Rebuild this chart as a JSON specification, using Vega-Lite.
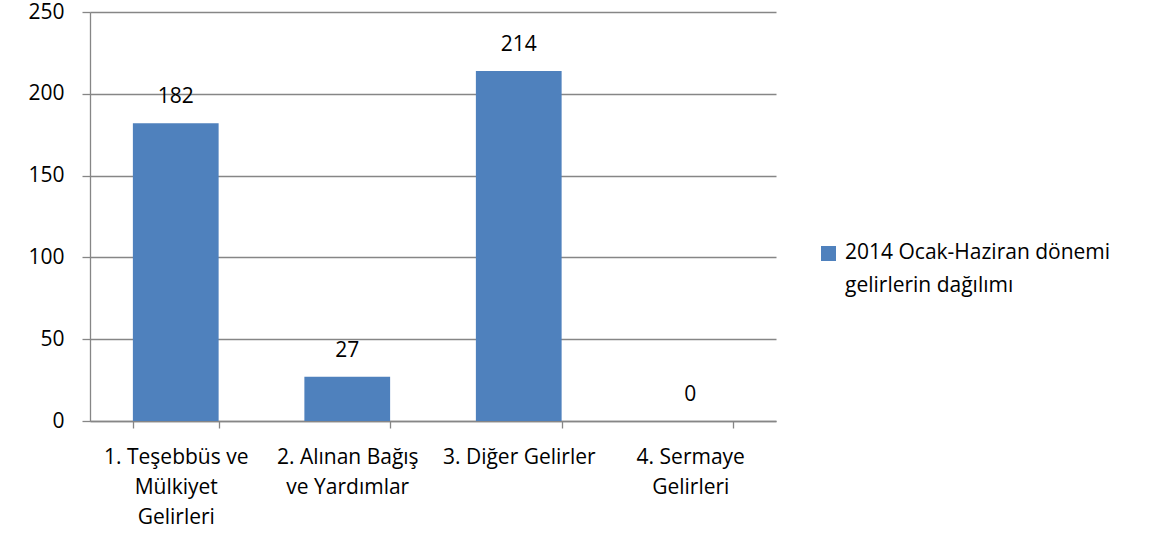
{
  "$schema": "https://vega.github.io/schema/vega-lite/v6.json",
  "autosize": "none",
  "width": 686,
  "height": 409,
  "padding": {"left": 90, "top": 12, "right": 379, "bottom": 132},
  "background": "white",
  "config": {
    "font": "Open Sans",
    "view": {"stroke": null}
  },
  "data": {
    "values": [
      {"kategori": "1. Teşebbüs ve\nMülkiyet\nGelirleri", "deger": 182, "seri": "2014 Ocak-Haziran dönemi\ngelirlerin dağılımı"},
      {"kategori": "2. Alınan Bağış\nve Yardımlar", "deger": 27, "seri": "2014 Ocak-Haziran dönemi\ngelirlerin dağılımı"},
      {"kategori": "3. Diğer Gelirler", "deger": 214, "seri": "2014 Ocak-Haziran dönemi\ngelirlerin dağılımı"},
      {"kategori": "4. Sermaye\nGelirleri", "deger": 0, "seri": "2014 Ocak-Haziran dönemi\ngelirlerin dağılımı"}
    ]
  },
  "encoding": {
    "x": {
      "field": "kategori", "type": "nominal", "sort": null,
      "scale": {"paddingInner": 0.5, "paddingOuter": 0.25},
      "axis": {
        "title": null, "labelAngle": 0, "labelAlign": "center", "labelBaseline": "top",
        "labelExpr": "split(datum.label, '\\n')",
        "labelFontSize": 21, "labelColor": "black", "labelLineHeight": 30,
        "labelPadding": 18, "labelOverlap": false, "labelBound": false, "labelLimit": 300,
        "tickSize": 7, "tickColor": "#868686", "domainColor": "#868686", "tickWidth": 1.3, "domainWidth": 1.3,
        "tickBand": "extent"
      }
    },
    "y": {
      "field": "deger", "type": "quantitative",
      "scale": {"domain": [0, 250], "nice": false},
      "axis": {
        "title": null, "values": [0, 50, 100, 150, 200, 250],
        "labelFontSize": 21, "labelColor": "black", "labelPadding": 18,
        "tickSize": 8, "tickColor": "#868686", "domainColor": "#868686", "tickWidth": 1.3, "domainWidth": 1.3,
        "gridColor": "#868686", "gridWidth": 1.3
      }
    }
  },
  "layer": [
    {
      "mark": {"type": "bar", "color": "#4F81BD"},
      "encoding": {
        "color": {
          "field": "seri", "type": "nominal",
          "scale": {"range": ["#4F81BD"]},
          "legend": {
            "title": null, "orient": "none", "legendX": 728, "legendY": 231,
            "symbolType": "square", "symbolSize": 225, "symbolStrokeWidth": 0,
            "labelFontSize": 21, "labelColor": "black",
            "labelExpr": "split(datum.label, '\\n')", "labelLimit": 400, "labelOffset": 6,
            "labelBaseline": "top",
            "encode": {"labels": {"update": {"lineHeight": {"value": 33}, "dy": {"value": -12}}}}
          }
        }
      }
    },
    {
      "mark": {"type": "text", "baseline": "middle", "dy": -26, "fontSize": 21, "color": "black"},
      "encoding": {"text": {"field": "deger", "type": "quantitative"}}
    }
  ]
}
